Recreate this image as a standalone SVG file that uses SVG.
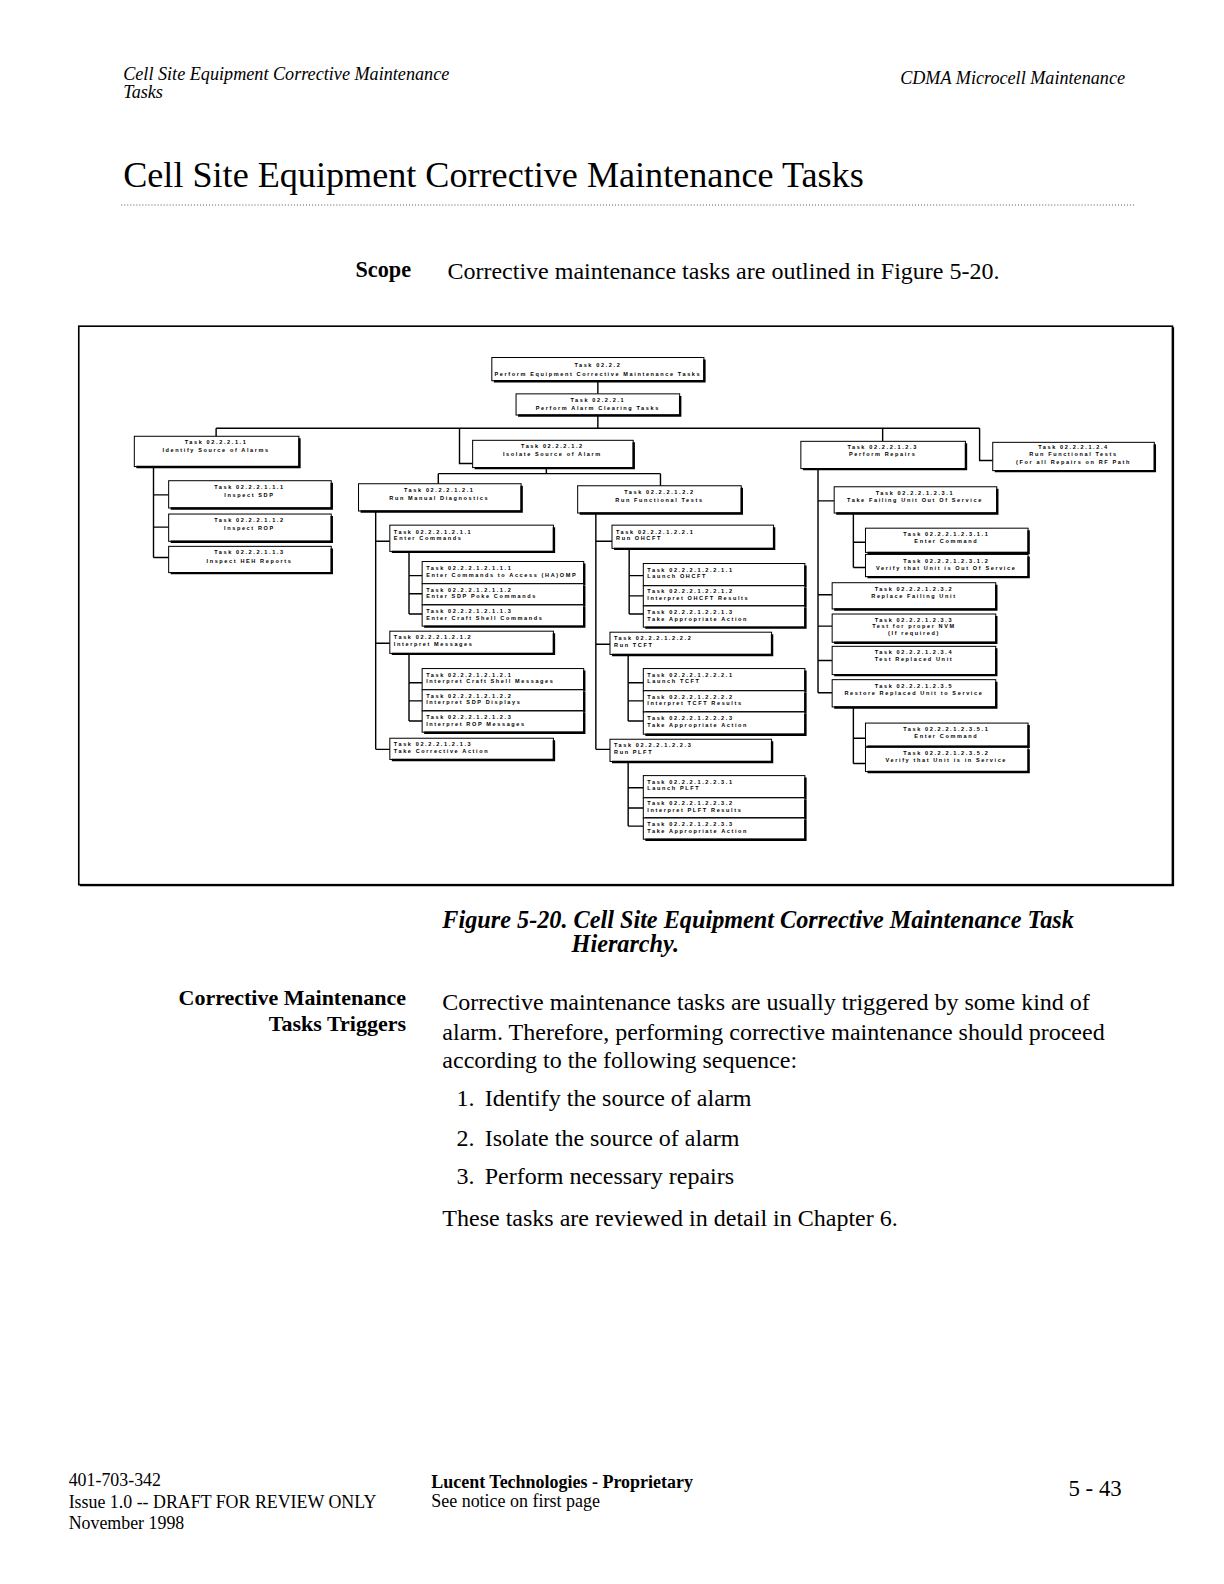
<svg xmlns="http://www.w3.org/2000/svg" width="1224" height="1584" viewBox="0 0 1224 1584">
<style>
.box{fill:#fff;stroke:#000;stroke-width:1}
.sh{fill:none;stroke:#000;stroke-width:2.4}
.t{font-family:"Liberation Sans",Arial,sans-serif;font-size:5.5px;font-weight:bold;letter-spacing:1.6px;fill:#000}
.c{text-anchor:middle}
.cn{fill:none;stroke:#000;stroke-width:1.4}
.serif{font-family:"Liberation Serif","Times New Roman",serif;fill:#000}
.it{font-style:italic}
.b{font-weight:bold}
</style>
<rect width="1224" height="1584" fill="#fff"/>
<g transform="scale(1.0099)">
<g id="page-text">
<text class="serif it" x="122" y="79" font-size="18">Cell Site Equipment Corrective Maintenance</text>
<text class="serif it" x="122" y="97" font-size="18">Tasks</text>
<text class="serif it" x="1114" y="83" font-size="18" text-anchor="end">CDMA Microcell Maintenance</text>
<text class="serif" x="122" y="185" font-size="35.8">Cell Site Equipment Corrective Maintenance Tasks</text>
<line x1="120" y1="203" x2="1124" y2="203" stroke="#555" stroke-width="1" stroke-dasharray="1,2"/>
<text class="serif b" x="352" y="274" font-size="22">Scope</text>
<text class="serif" x="443" y="276" font-size="23.8">Corrective maintenance tasks are outlined in Figure 5-20.</text>
<text class="serif it b" x="438" y="919" font-size="24">Figure 5-20.  Cell Site Equipment Corrective Maintenance Task</text>
<text class="serif it b" x="566" y="943" font-size="24">Hierarchy.</text>
<text class="serif b" x="402" y="995" font-size="21.8" text-anchor="end">Corrective Maintenance</text>
<text class="serif b" x="402" y="1021" font-size="21.8" text-anchor="end">Tasks Triggers</text>
<text class="serif" x="438" y="1000" font-size="23.8">Corrective maintenance tasks are usually triggered by some kind of</text>
<text class="serif" x="438" y="1030" font-size="23.8">alarm. Therefore, performing corrective maintenance should proceed</text>
<text class="serif" x="438" y="1058" font-size="23.8">according to the following sequence:</text>
<text class="serif" x="452" y="1095" font-size="23.8">1.</text>
<text class="serif" x="480" y="1095" font-size="23.8">Identify the source of alarm</text>
<text class="serif" x="452" y="1135" font-size="23.8">2.</text>
<text class="serif" x="480" y="1135" font-size="23.8">Isolate the source of alarm</text>
<text class="serif" x="452" y="1172" font-size="23.8">3.</text>
<text class="serif" x="480" y="1172" font-size="23.8">Perform necessary repairs</text>
<text class="serif" x="438" y="1214" font-size="23.8">These tasks are reviewed in detail in Chapter 6.</text>
<text class="serif" x="68" y="1471" font-size="17.7">401-703-342</text>
<text class="serif" x="68" y="1493" font-size="17.7">Issue 1.0 -- DRAFT FOR REVIEW ONLY</text>
<text class="serif" x="68" y="1514" font-size="17.7">November 1998</text>
<text class="serif b" x="427" y="1473" font-size="17.8">Lucent Technologies - Proprietary</text>
<text class="serif" x="427" y="1492" font-size="17.8">See notice on first page</text>
<text class="serif" x="1058" y="1481" font-size="22.6">5 - 43</text>
</g>
<g id="frame">
<rect x="78" y="323" width="1083" height="553" fill="none" stroke="#000" stroke-width="1.6"/>
<path d="M79,876.5 H1161.5 V324" fill="none" stroke="#000" stroke-width="2.2"/>
</g>
<g id="connectors">
<path class="cn" d="M592,377 V390 M592,411 V424 M214,424 H970 M214,424 V432 M455,424 V459 H468 M874,424 V437 M970,424 V456 H983"/>
<path class="cn" d="M152,462 V552 M152,490 H167 M152,522 H167 M152,552 H167"/>
<path class="cn" d="M541,463 V469 M434,469 H654 M434,469 V479 M654,469 V481"/>
<path class="cn" d="M372,506 V742 M372,536 H386 M372,637 H386 M372,742 H386"/>
<path class="cn" d="M405,546 V608 M405,570 H418 M405,588 H418 M405,608 H418"/>
<path class="cn" d="M405,647 V714 M405,676 H418 M405,694 H418 M405,714 H418"/>
<path class="cn" d="M590,508 V742 M590,536 H606 M590,638 H604 M590,742 H604"/>
<path class="cn" d="M623,543 V608 M623,570 H637 M623,590 H637 M623,608 H637"/>
<path class="cn" d="M622,648 V714 M622,676 H637 M622,694 H637 M622,714 H637"/>
<path class="cn" d="M622,754 V818 M622,780 H637 M622,800 H637 M622,818 H637"/>
<path class="cn" d="M810,464 V686 M810,496 H826 M810,589 H824 M810,620 H824 M810,654 H824 M810,686 H824"/>
<path class="cn" d="M845,508 V562 M845,537 H857 M845,562 H857"/>
<path class="cn" d="M845,700 V756 M845,731 H857 M845,756 H857"/>
</g>
<g id="n1"><rect class="box" x="487" y="354" width="210" height="23"/><path class="sh" d="M489,377.5 H697.5 V356"/><text class="t c" x="592" y="363">Task 02.2.2</text><text class="t c" x="592" y="372">Perform Equipment Corrective Maintenance Tasks</text></g>
<g id="n2"><rect class="box" x="511" y="390" width="162" height="21"/><path class="sh" d="M513,411.5 H673.5 V392"/><text class="t c" x="592" y="398">Task 02.2.2.1</text><text class="t c" x="592" y="406">Perform Alarm Clearing Tasks</text></g>
<g id="n3"><rect class="box" x="133" y="432" width="163" height="30"/><path class="sh" d="M135,462.5 H296.5 V434"/><text class="t c" x="214" y="440">Task 02.2.2.1.1</text><text class="t c" x="214" y="448">Identify Source of Alarms</text></g>
<g id="n4"><rect class="box" x="468" y="436" width="159" height="27"/><path class="sh" d="M470,463.5 H627.5 V438"/><text class="t c" x="547" y="444">Task 02.2.2.1.2</text><text class="t c" x="547" y="452">Isolate Source of Alarm</text></g>
<g id="n5"><rect class="box" x="793" y="437" width="163" height="27"/><path class="sh" d="M795,464.5 H956.5 V439"/><text class="t c" x="874" y="445">Task 02.2.2.1.2.3</text><text class="t c" x="874" y="452">Perform Repairs</text></g>
<g id="n6"><rect class="box" x="983" y="438" width="160" height="28"/><path class="sh" d="M985,466.5 H1143.5 V440"/><text class="t c" x="1063" y="445">Task 02.2.2.1.2.4</text><text class="t c" x="1063" y="452">Run Functional Tests</text><text class="t c" x="1063" y="459">(For all Repairs on RF Path</text></g>
<g id="n31"><rect class="box" x="167" y="476" width="161" height="27"/><path class="sh" d="M169,503.5 H328.5 V478"/><text class="t c" x="247" y="484">Task 02.2.2.1.1.1</text><text class="t c" x="247" y="492">Inspect SDP</text></g>
<g id="n32"><rect class="box" x="167" y="509" width="161" height="27"/><path class="sh" d="M169,536.5 H328.5 V511"/><text class="t c" x="247" y="517">Task 02.2.2.1.1.2</text><text class="t c" x="247" y="525">Inspect ROP</text></g>
<g id="n33"><rect class="box" x="167" y="541" width="161" height="26"/><path class="sh" d="M169,567.5 H328.5 V543"/><text class="t c" x="247" y="549">Task 02.2.2.1.1.3</text><text class="t c" x="247" y="557">Inspect HEH Reports</text></g>
<g id="n41"><rect class="box" x="355" y="479" width="161" height="27"/><path class="sh" d="M357,506.5 H516.5 V481"/><text class="t c" x="435" y="487">Task 02.2.2.1.2.1</text><text class="t c" x="435" y="495">Run Manual Diagnostics</text></g>
<g id="n42"><rect class="box" x="572" y="481" width="162" height="27"/><path class="sh" d="M574,508.5 H734.5 V483"/><text class="t c" x="653" y="489">Task 02.2.2.1.2.2</text><text class="t c" x="653" y="497">Run Functional Tests</text></g>
<g id="n411"><rect class="box" x="386" y="520" width="162" height="26"/><path class="sh" d="M388,546.5 H548.5 V522"/><text class="t" x="390" y="528.5">Task 02.2.2.1.2.1.1</text><text class="t" x="390" y="535">Enter Commands</text></g>
<g id="n4111"><rect class="box" x="418" y="556" width="160" height="22"/><path class="sh" d="M420,578.5 H578.5 V558"/><text class="t" x="422" y="564.5">Task 02.2.2.1.2.1.1.1</text><text class="t" x="422" y="571">Enter Commands to Access (HA)OMP</text></g>
<g id="n4112"><rect class="box" x="418" y="578" width="160" height="21"/><path class="sh" d="M420,599.5 H578.5 V580"/><text class="t" x="422" y="586">Task 02.2.2.1.2.1.1.2</text><text class="t" x="422" y="592.5">Enter SDP Poke Commands</text></g>
<g id="n4113"><rect class="box" x="418" y="599" width="160" height="21"/><path class="sh" d="M420,620.5 H578.5 V601"/><text class="t" x="422" y="607">Task 02.2.2.1.2.1.1.3</text><text class="t" x="422" y="613.5">Enter Craft Shell Commands</text></g>
<g id="n412"><rect class="box" x="386" y="625" width="162" height="22"/><path class="sh" d="M388,647.5 H548.5 V627"/><text class="t" x="390" y="633">Task 02.2.2.1.2.1.2</text><text class="t" x="390" y="639.5">Interpret Messages</text></g>
<g id="n4121"><rect class="box" x="418" y="662" width="160" height="21"/><path class="sh" d="M420,683.5 H578.5 V664"/><text class="t" x="422" y="670">Task 02.2.2.1.2.1.2.1</text><text class="t" x="422" y="676.5">Interpret Craft Shell Messages</text></g>
<g id="n4122"><rect class="box" x="418" y="683" width="160" height="21"/><path class="sh" d="M420,704.5 H578.5 V685"/><text class="t" x="422" y="691">Task 02.2.2.1.2.1.2.2</text><text class="t" x="422" y="697.5">Interpret SDP Displays</text></g>
<g id="n4123"><rect class="box" x="418" y="704" width="160" height="21"/><path class="sh" d="M420,725.5 H578.5 V706"/><text class="t" x="422" y="712">Task 02.2.2.1.2.1.2.3</text><text class="t" x="422" y="718.5">Interpret ROP Messages</text></g>
<g id="n413"><rect class="box" x="386" y="731" width="162" height="21"/><path class="sh" d="M388,752.5 H548.5 V733"/><text class="t" x="390" y="739">Task 02.2.2.1.2.1.3</text><text class="t" x="390" y="745.5">Take Corrective Action</text></g>
<g id="n421"><rect class="box" x="606" y="520" width="160" height="23"/><path class="sh" d="M608,543.5 H766.5 V522"/><text class="t" x="610" y="528.5">Task 02.2.2.1.2.2.1</text><text class="t" x="610" y="535">Run OHCFT</text></g>
<g id="n4211"><rect class="box" x="637" y="558" width="160" height="22"/><path class="sh" d="M639,580.5 H797.5 V560"/><text class="t" x="641" y="566">Task 02.2.2.1.2.2.1.1</text><text class="t" x="641" y="572.5">Launch OHCFT</text></g>
<g id="n4212"><rect class="box" x="637" y="580" width="160" height="20"/><path class="sh" d="M639,600.5 H797.5 V582"/><text class="t" x="641" y="587.5">Task 02.2.2.1.2.2.1.2</text><text class="t" x="641" y="594">Interpret OHCFT Results</text></g>
<g id="n4213"><rect class="box" x="637" y="600" width="160" height="21"/><path class="sh" d="M639,621.5 H797.5 V602"/><text class="t" x="641" y="608">Task 02.2.2.1.2.2.1.3</text><text class="t" x="641" y="614.5">Take Appropriate Action</text></g>
<g id="n422"><rect class="box" x="604" y="626" width="160" height="22"/><path class="sh" d="M606,648.5 H764.5 V628"/><text class="t" x="608" y="634">Task 02.2.2.1.2.2.2</text><text class="t" x="608" y="640.5">Run TCFT</text></g>
<g id="n4221"><rect class="box" x="637" y="662" width="160" height="22"/><path class="sh" d="M639,684.5 H797.5 V664"/><text class="t" x="641" y="670">Task 02.2.2.1.2.2.2.1</text><text class="t" x="641" y="676.5">Launch TCFT</text></g>
<g id="n4222"><rect class="box" x="637" y="684" width="160" height="21"/><path class="sh" d="M639,705.5 H797.5 V686"/><text class="t" x="641" y="692">Task 02.2.2.1.2.2.2.2</text><text class="t" x="641" y="698.5">Interpret TCFT Results</text></g>
<g id="n4223"><rect class="box" x="637" y="705" width="160" height="22"/><path class="sh" d="M639,727.5 H797.5 V707"/><text class="t" x="641" y="713">Task 02.2.2.1.2.2.2.3</text><text class="t" x="641" y="719.5">Take Appropriate Action</text></g>
<g id="n423"><rect class="box" x="604" y="732" width="160" height="22"/><path class="sh" d="M606,754.5 H764.5 V734"/><text class="t" x="608" y="740">Task 02.2.2.1.2.2.3</text><text class="t" x="608" y="746.5">Run PLFT</text></g>
<g id="n4231"><rect class="box" x="637" y="768" width="160" height="22"/><path class="sh" d="M639,790.5 H797.5 V770"/><text class="t" x="641" y="776">Task 02.2.2.1.2.2.3.1</text><text class="t" x="641" y="782.5">Launch PLFT</text></g>
<g id="n4232"><rect class="box" x="637" y="790" width="160" height="20"/><path class="sh" d="M639,810.5 H797.5 V792"/><text class="t" x="641" y="797.5">Task 02.2.2.1.2.2.3.2</text><text class="t" x="641" y="804">Interpret PLFT Results</text></g>
<g id="n4233"><rect class="box" x="637" y="810" width="160" height="21"/><path class="sh" d="M639,831.5 H797.5 V812"/><text class="t" x="641" y="818">Task 02.2.2.1.2.2.3.3</text><text class="t" x="641" y="824.5">Take Appropriate Action</text></g>
<g id="n51"><rect class="box" x="826" y="482" width="161" height="26"/><path class="sh" d="M828,508.5 H987.5 V484"/><text class="t c" x="906" y="490">Task 02.2.2.1.2.3.1</text><text class="t c" x="906" y="497.5">Take Failing Unit Out Of Service</text></g>
<g id="n511"><rect class="box" x="857" y="523" width="161" height="24"/><path class="sh" d="M859,547.5 H1018.5 V525"/><text class="t c" x="937" y="531">Task 02.2.2.1.2.3.1.1</text><text class="t c" x="937" y="538">Enter Command</text></g>
<g id="n512"><rect class="box" x="857" y="549" width="161" height="22"/><path class="sh" d="M859,571.5 H1018.5 V551"/><text class="t c" x="937" y="557">Task 02.2.2.1.2.3.1.2</text><text class="t c" x="937" y="564">Verify that Unit is Out Of Service</text></g>
<g id="n52"><rect class="box" x="824" y="577" width="162" height="26"/><path class="sh" d="M826,603.5 H986.5 V579"/><text class="t c" x="905" y="585">Task 02.2.2.1.2.3.2</text><text class="t c" x="905" y="592">Replace Failing Unit</text></g>
<g id="n53"><rect class="box" x="824" y="608" width="162" height="28"/><path class="sh" d="M826,636.5 H986.5 V610"/><text class="t c" x="905" y="615.5">Task 02.2.2.1.2.3.3</text><text class="t c" x="905" y="622">Test for proper NVM</text><text class="t c" x="905" y="628.5">(If required)</text></g>
<g id="n54"><rect class="box" x="824" y="640" width="162" height="28"/><path class="sh" d="M826,668.5 H986.5 V642"/><text class="t c" x="905" y="648">Task 02.2.2.1.2.3.4</text><text class="t c" x="905" y="655">Test Replaced Unit</text></g>
<g id="n55"><rect class="box" x="824" y="673" width="162" height="27"/><path class="sh" d="M826,700.5 H986.5 V675"/><text class="t c" x="905" y="681">Task 02.2.2.1.2.3.5</text><text class="t c" x="905" y="688">Restore Replaced Unit to Service</text></g>
<g id="n551"><rect class="box" x="857" y="716" width="161" height="23"/><path class="sh" d="M859,739.5 H1018.5 V718"/><text class="t c" x="937" y="724">Task 02.2.2.1.2.3.5.1</text><text class="t c" x="937" y="731">Enter Command</text></g>
<g id="n552"><rect class="box" x="857" y="740" width="161" height="24"/><path class="sh" d="M859,764.5 H1018.5 V742"/><text class="t c" x="937" y="748">Task 02.2.2.1.2.3.5.2</text><text class="t c" x="937" y="755">Verify that Unit is in Service</text></g>
</g>
</svg>
